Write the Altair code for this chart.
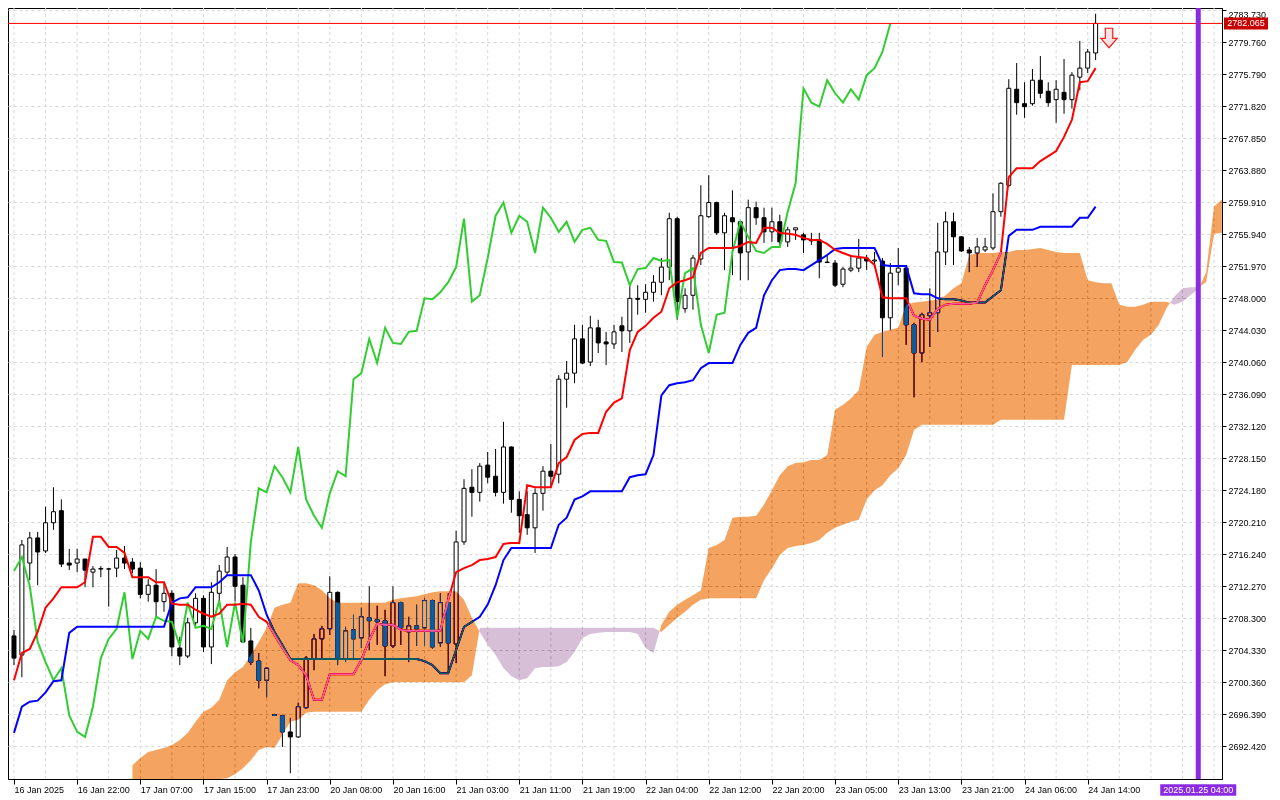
import altair as alt
import pandas as pd

FONT = "Liberation Sans"
W, H = 1214, 771

# ---------------- axis labels ----------------
x_tick_bars = [0, 8, 16, 24, 32, 40, 48, 56, 64, 72, 80, 88, 96, 104, 112, 120, 128, 136]
x_labels = ["16 Jan 2025", "16 Jan 22:00", "17 Jan 07:00", "17 Jan 15:00", "17 Jan 23:00",
            "20 Jan 08:00", "20 Jan 16:00", "21 Jan 03:00", "21 Jan 11:00", "21 Jan 19:00",
            "22 Jan 04:00", "22 Jan 12:00", "22 Jan 20:00", "23 Jan 05:00", "23 Jan 13:00",
            "23 Jan 21:00", "24 Jan 06:00", "24 Jan 14:00"]
y_ticks = [2692.420, 2696.390, 2700.360, 2704.330, 2708.300, 2712.270, 2716.240, 2720.210,
           2724.180, 2728.150, 2732.120, 2736.090, 2740.060, 2744.030, 2748.000, 2751.970,
           2755.940, 2759.910, 2763.880, 2767.850, 2771.820, 2775.790, 2779.760, 2783.730]
grid_bars = [0, 4, 8, 12, 16, 20, 24, 28, 32, 36, 40, 44, 48, 52, 56, 60, 64, 68, 72, 76,
             80, 84, 88, 92, 96, 100, 104, 108, 112, 116, 120, 124, 128, 132, 136, 140, 144,
             148, 152]

# ---------------- candles (H1) ----------------
open_ = [2706.08, 2703.71, 2715.12, 2718.24, 2716.62, 2720.12, 2721.62, 2715.12, 2715.12, 2715.62,
         2713.99, 2714.37, 2714.37, 2714.49, 2715.74, 2715.24, 2714.49, 2711.24, 2712.37, 2710.33,
         2711.37, 2704.58, 2703.58, 2707.71, 2710.74, 2704.71, 2711.37, 2713.99, 2715.87, 2712.37,
         2705.46, 2702.96, 2700.58, 2696.30, 2696.17, 2694.17, 2693.55, 2697.17, 2703.21, 2705.71,
         2706.96, 2711.49, 2703.21, 2706.83, 2705.83, 2708.33, 2708.08, 2707.96, 2704.83, 2710.21,
         2706.58, 2707.33, 2707.08, 2710.46, 2705.21, 2710.21, 2705.08, 2717.74, 2724.52, 2723.89,
         2727.27, 2725.89, 2723.89, 2729.52, 2723.02, 2721.12, 2719.49, 2723.77, 2726.52, 2726.14,
         2737.93, 2738.68, 2742.93, 2740.05, 2744.30, 2742.55, 2742.30, 2744.55, 2743.93, 2747.96,
         2747.84, 2748.71, 2749.96, 2751.84, 2757.84, 2746.68, 2748.34, 2752.84, 2758.09, 2759.84,
         2756.09, 2757.96, 2757.46, 2753.71, 2759.21, 2757.96, 2756.21, 2757.46, 2754.96, 2756.46,
         2755.84, 2755.21, 2755.21, 2752.46, 2752.34, 2749.71, 2751.46, 2751.71, 2752.96, 2752.59,
         2752.59, 2745.55, 2751.21, 2751.71, 2744.68, 2741.18, 2745.80, 2746.18, 2753.71, 2757.46,
         2755.59, 2753.96, 2753.59, 2753.96, 2754.21, 2758.71, 2761.99, 2773.90, 2772.11, 2772.11,
         2775.02, 2773.65, 2772.61, 2773.52, 2772.61, 2775.40, 2776.52, 2778.40]
high = [2706.83, 2717.99, 2718.99, 2718.99, 2722.12, 2724.52, 2723.02, 2716.87, 2716.87, 2715.62,
        2714.74, 2714.74, 2714.49, 2716.74, 2717.24, 2715.74, 2715.24, 2713.12, 2714.37, 2712.62,
        2711.74, 2705.96, 2708.33, 2711.37, 2711.12, 2712.74, 2714.87, 2717.12, 2716.24, 2713.37,
        2707.08, 2703.96, 2702.21, 2696.42, 2696.30, 2695.92, 2697.80, 2703.58, 2706.33, 2707.33,
        2713.49, 2711.60, 2707.21, 2708.71, 2709.58, 2712.24, 2709.83, 2709.33, 2712.24, 2710.33,
        2708.46, 2709.96, 2710.74, 2710.58, 2711.37, 2711.37, 2719.12, 2725.52, 2726.77, 2727.52,
        2728.89, 2729.27, 2732.64, 2729.60, 2724.02, 2724.02, 2724.39, 2727.14, 2729.89, 2738.43,
        2740.18, 2744.68, 2744.68, 2745.80, 2745.30, 2743.80, 2744.68, 2745.68, 2749.59, 2749.59,
        2749.71, 2750.84, 2752.96, 2758.59, 2758.09, 2749.21, 2753.34, 2761.99, 2763.24, 2759.96,
        2758.59, 2761.36, 2757.55, 2760.21, 2759.96, 2759.21, 2759.21, 2758.34, 2756.84, 2756.71,
        2756.09, 2756.09, 2756.09, 2753.34, 2752.71, 2751.84, 2753.34, 2755.34, 2753.34, 2753.71,
        2752.96, 2752.34, 2754.21, 2751.96, 2744.93, 2746.18, 2749.21, 2757.34, 2758.71, 2758.59,
        2755.70, 2754.34, 2755.46, 2755.46, 2760.99, 2762.36, 2775.15, 2777.15, 2774.77, 2776.40,
        2778.02, 2774.77, 2775.02, 2777.65, 2776.02, 2779.90, 2778.90, 2783.27]
low = [2702.46, 2700.96, 2712.99, 2712.37, 2716.37, 2719.24, 2714.62, 2714.24, 2713.99, 2712.12,
       2712.12, 2713.37, 2709.71, 2713.37, 2714.37, 2713.87, 2710.74, 2710.33, 2708.46, 2709.08,
       2703.58, 2702.46, 2703.33, 2707.21, 2704.08, 2702.58, 2710.33, 2713.62, 2710.33, 2705.21,
       2702.46, 2699.58, 2698.46, 2696.17, 2692.30, 2689.05, 2693.42, 2697.05, 2701.83, 2703.21,
       2706.21, 2702.46, 2702.83, 2703.08, 2704.58, 2704.33, 2704.96, 2701.08, 2704.58, 2704.96,
       2702.83, 2704.83, 2704.83, 2704.46, 2704.71, 2701.46, 2702.71, 2717.37, 2720.87, 2722.74,
       2725.02, 2723.39, 2722.49, 2721.37, 2718.87, 2718.62, 2716.37, 2721.62, 2724.52, 2725.02,
       2734.39, 2737.43, 2739.80, 2739.55, 2741.18, 2739.68, 2741.68, 2741.30, 2742.43, 2745.93,
       2746.18, 2747.55, 2748.34, 2750.21, 2745.30, 2746.18, 2746.55, 2752.09, 2757.96, 2755.84,
       2751.46, 2750.84, 2750.21, 2750.21, 2757.09, 2754.84, 2754.96, 2754.59, 2754.34, 2755.21,
       2753.59, 2754.59, 2750.46, 2752.34, 2749.34, 2749.34, 2751.21, 2751.21, 2751.46, 2751.71,
       2740.68, 2744.05, 2749.59, 2742.18, 2735.68, 2740.05, 2741.93, 2743.80, 2752.09, 2752.09,
       2753.71, 2751.21, 2751.84, 2753.71, 2753.96, 2758.09, 2761.74, 2770.74, 2770.36, 2771.86,
       2772.77, 2771.74, 2769.74, 2770.86, 2771.49, 2773.77, 2775.90, 2777.52]
close = [2703.33, 2717.37, 2718.24, 2716.49, 2720.12, 2721.49, 2714.99, 2714.87, 2715.62, 2714.24,
         2714.37, 2714.45, 2714.40, 2715.74, 2715.12, 2714.37, 2711.24, 2712.37, 2710.33, 2711.37,
         2704.71, 2703.58, 2707.71, 2710.74, 2704.71, 2711.49, 2714.12, 2715.87, 2712.24, 2705.33,
         2702.83, 2700.58, 2702.08, 2696.22, 2694.17, 2693.55, 2697.30, 2703.33, 2705.71, 2706.96,
         2711.49, 2703.21, 2706.71, 2705.71, 2708.46, 2707.96, 2707.83, 2704.83, 2710.21, 2707.08,
         2707.33, 2706.96, 2710.46, 2704.71, 2710.21, 2705.21, 2717.74, 2724.39, 2723.89, 2727.14,
         2725.77, 2723.89, 2729.52, 2723.02, 2720.99, 2719.49, 2723.77, 2726.52, 2725.89, 2737.93,
         2738.68, 2742.93, 2739.93, 2744.30, 2742.43, 2742.30, 2743.80, 2743.93, 2747.96, 2747.84,
         2748.71, 2749.96, 2751.84, 2757.84, 2747.55, 2748.34, 2752.96, 2758.21, 2759.84, 2756.09,
         2758.21, 2757.46, 2753.59, 2759.21, 2757.96, 2756.21, 2757.46, 2754.96, 2756.46, 2756.71,
         2755.21, 2755.09, 2752.46, 2752.40, 2749.59, 2751.59, 2751.71, 2752.96, 2752.59, 2752.71,
         2745.55, 2751.09, 2751.71, 2744.68, 2741.18, 2745.93, 2746.18, 2753.71, 2757.46, 2755.59,
         2753.84, 2753.59, 2754.34, 2754.34, 2758.71, 2762.24, 2774.02, 2772.24, 2771.74, 2775.02,
         2773.40, 2772.24, 2773.90, 2772.61, 2775.65, 2776.52, 2778.52, 2782.065]

# ---------------- Ichimoku lines ----------------
tenkan = [2700.58, 2703.96, 2704.46, 2706.58, 2709.58, 2710.74, 2712.12, 2712.12, 2712.12, 2712.74,
          2718.37, 2718.37, 2717.12, 2717.12, 2716.37, 2713.37, 2713.37, 2713.37, 2712.74, 2712.74,
          2710.08, 2709.96, 2709.96, 2709.33, 2708.83, 2708.46, 2708.83, 2709.96, 2709.96, 2710.08,
          2709.96, 2708.46, 2707.83, 2706.21, 2704.58, 2703.08, 2702.46, 2701.21, 2698.17, 2698.17,
          2701.33, 2701.33, 2701.33, 2701.33, 2703.08, 2705.58, 2707.58, 2707.46, 2707.46, 2706.83,
          2706.71, 2706.71, 2706.71, 2706.71, 2706.71, 2710.58, 2713.99, 2714.49, 2714.87, 2715.49,
          2715.62, 2715.87, 2717.49, 2717.62, 2717.62, 2724.77, 2724.52, 2724.52, 2724.52, 2727.52,
          2728.27, 2730.39, 2731.14, 2731.27, 2731.27, 2733.89, 2735.02, 2735.55, 2741.55, 2743.80,
          2744.55, 2745.55, 2746.30, 2749.21, 2749.96, 2750.21, 2750.59, 2753.59, 2754.21, 2754.21,
          2754.21, 2754.21, 2754.46, 2754.96, 2754.84, 2756.71, 2756.71, 2756.09, 2755.96, 2755.84,
          2755.46, 2755.21, 2755.21, 2754.71, 2753.96, 2753.59, 2753.21, 2753.09, 2752.96, 2752.09,
          2748.09, 2747.96, 2747.96, 2747.96, 2745.80, 2745.43, 2745.30, 2746.68, 2747.18, 2747.30,
          2747.30, 2747.30, 2747.43, 2749.59, 2751.46, 2753.59, 2762.99, 2764.11, 2764.11, 2764.11,
          2764.99, 2765.61, 2766.24, 2767.99, 2770.11, 2774.77, 2774.90, 2776.52]
kijun = [2694.05, 2697.30, 2697.92, 2698.05, 2699.08, 2700.46, 2700.58, 2706.46, 2707.21, 2707.21,
         2707.21, 2707.21, 2707.21, 2707.21, 2707.21, 2707.21, 2707.21, 2707.21, 2707.21, 2707.21,
         2710.21, 2710.74, 2710.87, 2712.12, 2712.12, 2712.12, 2712.74, 2713.62, 2713.62, 2713.62,
         2713.62, 2711.74, 2708.71, 2706.58, 2704.96, 2703.21, 2703.21, 2703.21, 2703.21, 2703.21,
         2703.21, 2703.21, 2703.21, 2703.21, 2703.21, 2703.21, 2703.21, 2703.21, 2703.21, 2703.21,
         2703.21, 2703.21, 2702.96, 2702.46, 2701.46, 2701.46, 2704.33, 2707.21, 2707.83, 2708.46,
         2709.96, 2712.37, 2715.49, 2716.99, 2716.99, 2716.99, 2716.99, 2716.99, 2716.99, 2719.87,
         2720.74, 2722.99, 2723.39, 2724.02, 2724.02, 2724.02, 2724.02, 2724.02, 2725.77, 2726.02,
         2726.14, 2728.52, 2735.93, 2737.18, 2737.43, 2737.55, 2737.80, 2739.30, 2739.93, 2739.93,
         2739.93, 2739.93, 2742.18, 2743.68, 2744.30, 2748.34, 2750.21, 2751.46, 2751.59, 2751.59,
         2751.46, 2752.09, 2752.71, 2753.34, 2754.09, 2754.21, 2754.21, 2754.21, 2754.21, 2754.21,
         2752.09, 2751.96, 2751.96, 2751.96, 2748.59, 2748.46, 2748.46, 2747.96, 2747.84, 2747.84,
         2747.68, 2747.43, 2747.43, 2747.43, 2748.21, 2748.96, 2755.71, 2756.46, 2756.46, 2756.46,
         2756.84, 2756.84, 2756.84, 2756.84, 2756.84, 2757.96, 2757.96, 2759.34]
CHIKOU_LAG = 26

# Senkou spans (cloud), from bar 15 to bar 153 (26 bars into the future)
CLOUD_START = 15
span_a = [2690.05, 2690.92, 2691.67, 2691.92, 2692.17, 2692.55, 2693.17, 2694.05, 2695.42, 2696.67,
          2697.17, 2698.17, 2700.58, 2701.58, 2702.21, 2703.71, 2705.33, 2707.08, 2709.58, 2709.96,
          2710.21, 2712.62, 2712.62, 2712.37, 2711.74, 2710.74, 2710.21, 2710.21, 2710.21, 2710.21,
          2710.21, 2710.21, 2710.21, 2710.58, 2710.74, 2710.87, 2710.99, 2711.24, 2711.49, 2711.62,
          2711.62, 2711.62, 2710.58, 2708.33, 2706.58, 2704.96, 2703.71, 2702.08, 2701.08, 2700.58,
          2700.83, 2702.08, 2702.21, 2702.21, 2702.33, 2702.83, 2704.08, 2705.83, 2706.33, 2706.46,
          2706.58, 2706.58, 2706.58, 2706.58, 2706.33, 2704.58, 2703.96, 2707.46, 2709.08, 2709.96,
          2710.58, 2711.12, 2711.74, 2716.99, 2717.37, 2717.99, 2720.74, 2720.87, 2720.87, 2720.99,
          2722.37, 2724.14, 2726.02, 2727.14, 2727.52, 2727.64, 2727.89, 2727.89, 2728.52, 2734.14,
          2734.77, 2735.55, 2736.55, 2741.93, 2743.43, 2743.80, 2744.05, 2744.30, 2747.18, 2747.43,
          2747.55, 2747.68, 2747.80, 2748.34, 2749.21, 2749.84, 2753.34, 2753.59, 2753.59, 2753.59,
          2753.71, 2753.71, 2753.96, 2753.96, 2754.09, 2754.21, 2753.96, 2753.71, 2753.59, 2753.59,
          2753.59, 2750.21, 2749.96, 2749.84, 2749.84, 2747.18, 2746.93, 2746.93, 2747.18, 2747.55,
          2747.55, 2747.55, 2747.18, 2747.55, 2748.34, 2749.09, 2751.21, 2759.34, 2760.21]
span_b = [2686.92, 2686.92, 2686.92, 2686.92, 2686.92, 2686.92, 2686.92, 2686.92, 2686.92, 2686.92,
          2686.92, 2686.92, 2688.42, 2688.92, 2689.67, 2690.67, 2691.92, 2692.30, 2692.17, 2693.80,
          2695.42, 2695.67, 2696.55, 2696.67, 2696.67, 2696.67, 2696.67, 2696.67, 2696.67, 2696.67,
          2698.17, 2699.33, 2700.08, 2700.33, 2700.33, 2700.33, 2700.33, 2700.33, 2700.33, 2700.33,
          2700.33, 2700.33, 2700.33, 2701.21, 2707.08, 2707.08, 2707.08, 2707.08, 2707.08, 2707.08,
          2707.08, 2707.08, 2707.08, 2707.08, 2707.08, 2707.08, 2707.08, 2707.08, 2707.08, 2707.08,
          2707.08, 2707.08, 2707.08, 2707.08, 2707.08, 2707.08, 2707.08, 2706.58, 2707.46, 2708.33,
          2709.08, 2709.96, 2710.58, 2710.74, 2710.74, 2710.74, 2710.74, 2710.74, 2710.74, 2710.74,
          2712.99, 2714.49, 2716.12, 2716.99, 2717.24, 2717.37, 2717.62, 2717.99, 2718.87, 2719.49,
          2719.87, 2720.24, 2720.49, 2722.99, 2724.14, 2724.77, 2726.02, 2726.89, 2728.52, 2731.64,
          2732.27, 2732.27, 2732.27, 2732.27, 2732.27, 2732.27, 2732.27, 2732.27, 2732.27, 2732.27,
          2732.89, 2732.89, 2732.89, 2732.89, 2732.89, 2732.89, 2732.89, 2732.89, 2732.89, 2739.68,
          2739.68, 2739.68, 2739.68, 2739.68, 2739.68, 2739.68, 2740.05, 2741.55, 2742.80, 2743.43,
          2744.68, 2746.80, 2748.21, 2749.21, 2749.34, 2749.34, 2749.96, 2755.96, 2756.09]

# ---------------- annotations ----------------
bid_price = [2782.065]
bid_label = ["2782.065"]
future_bar = [150]
future_label = ["2025.01.25 04:00"]
signal_bar = [138.7]
signal_price = [2780.26]

# ---------------- frames ----------------
n = len(close)
assert len(open_) == n and len(high) == n and len(low) == n
assert len(tenkan) == n and len(kijun) == n
assert len(span_a) == len(span_b)

bars = list(range(n))
candles = pd.DataFrame({"bar": bars, "open": open_, "high": high, "low": low, "close": close})
lines = pd.DataFrame({"bar": bars, "tenkan": tenkan, "kijun": kijun})
chikou = pd.DataFrame({"bar": bars[: n - CHIKOU_LAG], "chikou": close[CHIKOU_LAG:]})

# split the cloud into bullish / bearish pieces at the span crossings
rows, seg, prev = [], 0, None
for j, (a, b) in enumerate(zip(span_a, span_b)):
    i = CLOUD_START + j
    kind = "up" if a >= b else "down"
    if prev is not None and prev[3] != kind:
        pi, pa, pb, pk = prev
        d0, d1 = pa - pb, a - b
        t = d0 / (d0 - d1)
        xc, yc = pi + t, pa + t * (a - pa)
        rows.append({"bar": xc, "a": yc, "b": yc, "seg": seg, "kind": pk})
        seg += 1
        rows.append({"bar": xc, "a": yc, "b": yc, "seg": seg, "kind": kind})
    rows.append({"bar": i, "a": a, "b": b, "seg": seg, "kind": kind})
    prev = (i, a, b, kind)
cloud = pd.DataFrame(rows)

bid_df = pd.DataFrame({"price": bid_price, "label": bid_label})
fut_df = pd.DataFrame({"bar": future_bar, "label": future_label})
sig_df = pd.DataFrame({"bar": signal_bar, "price": signal_price})
grid_df = pd.DataFrame({"bar": grid_bars})

# ---------------- scales / axes ----------------
xs = alt.Scale(domain=[-0.125, 152.375], nice=False, zero=False, clamp=True)
ys = alt.Scale(domain=[2688.33, 2783.98], nice=False, zero=False, clamp=True)

label_js = "[" + ",".join("'" + s + "'" for s in x_labels) + "]"
x_axis = alt.Axis(values=x_tick_bars, labelExpr=label_js + "[round(datum.value / 8)]",
                  title=None, grid=False, tickSize=5, tickColor="black", domainColor="black",
                  labelAlign="left", labelBaseline="top", labelPadding=1, labelFont=FONT,
                  labelFontSize=9, labelColor="black", labelFlush=False, labelOverlap=False)
y_axis = alt.Axis(orient="right", values=y_ticks, format=".3f", title=None, grid=True,
                  gridColor="#d9d9d9", gridDash=[3, 3], gridWidth=1, tickSize=4,
                  tickColor="black", domainColor="black", labelFont=FONT, labelFontSize=9,
                  labelColor="black", labelPadding=2, labelFlush=4, labelFlushOffset=0,
                  labelOverlap=False)


def X(field="bar:Q"):
    return alt.X(field, scale=xs, axis=x_axis)


def Y(field):
    return alt.Y(field, scale=ys, axis=y_axis, stack=None)


grid_layer = alt.Chart(grid_df).mark_rule(color="#d9d9d9", strokeDash=[3, 3], strokeWidth=1).encode(
    x=X())

wicks = alt.Chart(candles).mark_rule(color="black", strokeWidth=1).encode(
    x=X(), y=Y("low:Q"), y2="high:Q")

bodies = alt.Chart(candles).mark_bar(size=4, stroke="black", strokeWidth=1, opacity=1).encode(
    x=X(), y=Y("open:Q"), y2="close:Q",
    fill=alt.condition("datum.close >= datum.open", alt.value("white"), alt.value("black")))

chikou_line = alt.Chart(chikou).mark_line(color="#32cd32", strokeWidth=2).encode(x=X(), y=Y("chikou:Q"))
kijun_line = alt.Chart(lines).mark_line(color="#0000ff", strokeWidth=2).encode(x=X(), y=Y("kijun:Q"))
tenkan_line = alt.Chart(lines).mark_line(color="#ff0000", strokeWidth=2).encode(x=X(), y=Y("tenkan:Q"))

cloud_up = alt.Chart(cloud).transform_filter("datum.kind == 'up'").mark_area(
    color="#0b5b9f", opacity=1, fillOpacity=1, blend="difference", orient="vertical",
    interpolate="linear").encode(x=X(), y=Y("a:Q"), y2="b:Q", detail="seg:N")
cloud_down = alt.Chart(cloud).transform_filter("datum.kind == 'down'").mark_area(
    color="#274027", opacity=1, fillOpacity=1, blend="difference", orient="vertical",
    interpolate="linear").encode(x=X(), y=Y("a:Q"), y2="b:Q", detail="seg:N")

bid_line = alt.Chart(bid_df).mark_rule(color="#ff0000", strokeWidth=1).encode(y=Y("price:Q"))
future_line = alt.Chart(fut_df).mark_rule(color="#8a2be2", strokeWidth=5).encode(x=X())

ARROW = "M-0.38,-1 L0.38,-1 L0.38,0.05 L0.84,0.05 L0,1 L-0.84,0.05 L-0.38,0.05 Z"
signal = alt.Chart(sig_df).mark_point(shape=ARROW, size=380, filled=True, fill="#ffe2e2",
                                      stroke="#ff1a1a", strokeWidth=1.2, opacity=1).encode(
    x=X(), y=Y("price:Q"))

TAG = "M-1,-0.27 L1,-0.27 L1,0.27 L-1,0.27 Z"
bid_tag = alt.Chart(bid_df).mark_point(shape=TAG, size=44 * 44, filled=True, fill="#c80000",
                                       strokeWidth=0, opacity=1).encode(
    x=alt.value(W + 24), y=Y("price:Q"))
bid_text = alt.Chart(bid_df).mark_text(color="white", font=FONT, fontSize=9, align="center",
                                       baseline="middle").encode(
    x=alt.value(W + 24), y=Y("price:Q"), text="label:N")

TAG2 = "M-1,-0.15 L1,-0.15 L1,0.15 L-1,0.15 Z"
fut_tag = alt.Chart(fut_df).mark_point(shape=TAG2, size=76 * 76, filled=True, fill="#8a2be2",
                                       strokeWidth=0, opacity=1).encode(
    x=X(), y=alt.value(H + 11))
fut_text = alt.Chart(fut_df).mark_text(color="white", font=FONT, fontSize=9, align="center",
                                       baseline="middle").encode(
    x=X(), y=alt.value(H + 11), text="label:N")

chart = alt.layer(
    grid_layer, wicks, bodies, chikou_line, kijun_line, tenkan_line,
    cloud_up, cloud_down, bid_line, future_line, signal, bid_tag, bid_text, fut_tag, fut_text,
).properties(
    width=W, height=H, background="white",
    padding={"left": 0, "top": 0, "right": 50, "bottom": 18},
    autosize=alt.AutoSizeParams(type="none"),
).configure_view(stroke="black", strokeWidth=1, fill="white")

chart.save("out.html", embed_options={"renderer": "svg", "actions": False})
